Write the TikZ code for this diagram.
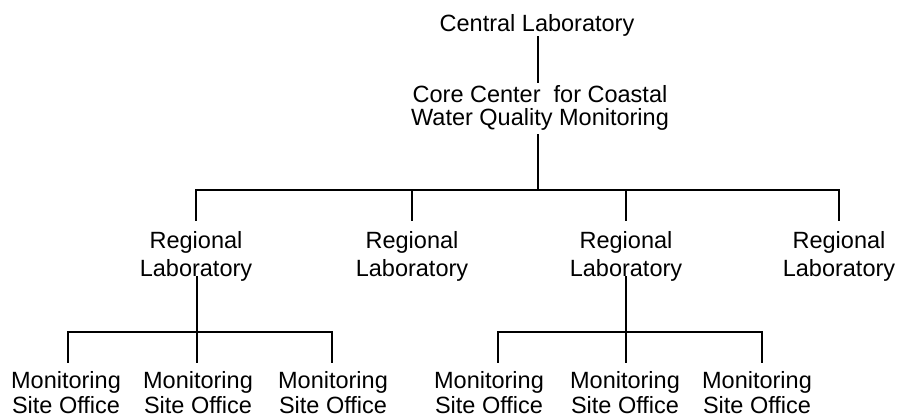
\documentclass[tikz,border=0pt]{standalone}
\usepackage{fontspec}
\setmainfont{Liberation Sans}
\begin{document}
\begin{tikzpicture}[x=1pt,y=-1pt,
  lbl/.style={inner sep=0pt, align=center, anchor=base,
              font=\fontsize{23.5}{27}\selectfont},
  twoline/.style={lbl, font=\fontsize{23.5}{#1}\selectfont},
  link/.style={line width=2.5pt, line cap=rect},
]
\fill[white] (0,0) rectangle (899,417);
\useasboundingbox (0,0) rectangle (899,417);

% top of the hierarchy (two-line nodes sit on their last baseline)
\node[lbl] (central) at (537,32) {Central Laboratory};
\node[twoline=22] (core) at (540,125) {Core Center \ for Coastal\\Water Quality Monitoring};

% regional laboratories
\node[twoline=28] (reg1) at (196,276) {Regional\\Laboratory};
\node[twoline=28] (reg2) at (412,276) {Regional\\Laboratory};
\node[twoline=28] (reg3) at (626,276) {Regional\\Laboratory};
\node[twoline=28] (reg4) at (839,276) {Regional\\Laboratory};

% monitoring site offices
\node[twoline=25] (mon1) at (66,413) {Monitoring\\Site Office};
\node[twoline=25] (mon2) at (198,413) {Monitoring\\Site Office};
\node[twoline=25] (mon3) at (333,413) {Monitoring\\Site Office};
\node[twoline=25] (mon4) at (489,413) {Monitoring\\Site Office};
\node[twoline=25] (mon5) at (625,413) {Monitoring\\Site Office};
\node[twoline=25] (mon6) at (757,413) {Monitoring\\Site Office};

% junction points of the connectors
\coordinate (hub) at (538,190);
\coordinate (sub1) at (197,332);
\coordinate (sub2) at (626,332);
\coordinate (d1) at (68,332);
\coordinate (d3) at (332,332);
\coordinate (d4) at (498,332);
\coordinate (d6) at (762,332);

% central -> core -> regional bus
\draw[link] (central.south -| hub) -- ([yshift=4pt]core.north -| hub);
\draw[link] ([yshift=-5pt]core.south -| hub) -- (hub);
\draw[link] (reg1 |- hub) -- (reg4 |- hub);
\foreach \r in {reg1,reg2,reg3,reg4}
  \draw[link] (\r |- hub) -- ([yshift=11pt]\r.north);

% first regional group
\draw[link] ([yshift=4pt]reg1.south -| sub1) -- ([yshift=9pt]mon2.north -| sub1);
\draw[link] (d1) -- (d3);
\draw[link] (d1) -- ([yshift=9pt]mon1.north -| d1);
\draw[link] (d3) -- ([yshift=9pt]mon3.north -| d3);

% second regional group
\draw[link] ([yshift=4pt]reg3.south -| sub2) -- ([yshift=9pt]mon5.north -| sub2);
\draw[link] (d4) -- (d6);
\draw[link] (d4) -- ([yshift=9pt]mon4.north -| d4);
\draw[link] (d6) -- ([yshift=9pt]mon6.north -| d6);
\end{tikzpicture}
\end{document}
